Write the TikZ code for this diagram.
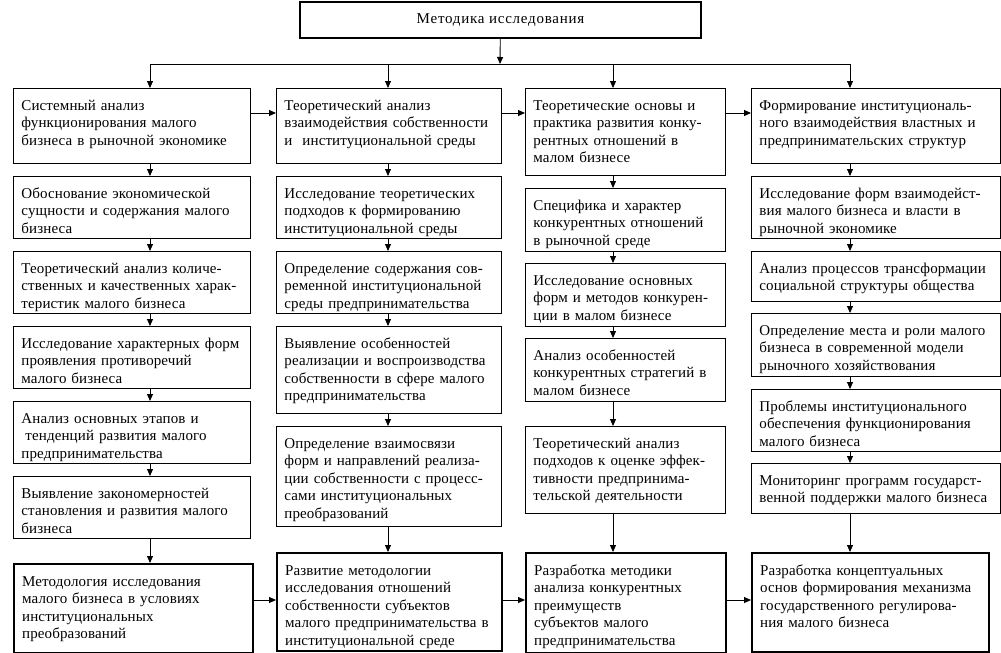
\documentclass[tikz,border=0pt]{standalone}
\usepackage{fontspec}
\setmainfont{Liberation Serif}[LetterSpace=0.8]
\newfontfamily\headfont{Liberation Serif}[LetterSpace=5.0]
\usetikzlibrary{arrows.meta}

\begin{document}
\begin{tikzpicture}[x=1pt,y=-1pt,
        box/.style 2 args={draw,line width=0.9pt,anchor=north west,align=left,
                inner xsep=8pt,inner ysep=0pt,text width=#1,
                text height=22pt,text depth=#2,
                font=\fontsize{15}{17.5}\selectfont},
        main/.style={line width=2.4pt},
        arr/.style={-{Triangle[length=7pt,width=6pt]},line width=0.9pt}]
        \useasboundingbox (0,0) rectangle (1001,653);

        \node [draw,main,minimum width=401pt,minimum height=36pt,
                font=\headfont\fontsize{15}{17.5}\selectfont] (0) at (500.5,20) {Методика исследования};

        % column 1
        \node [box={221pt}{53pt}] (11) at (13,88) {Системный анализ\\функционирования малого\\бизнеса в рыночной экономике};
        \node [box={221pt}{40pt}] (12) at (13,176) {Обоснование экономической\\сущности и содержания малого\\бизнеса};
        \node [box={221pt}{40pt}] (13) at (13,251) {Теоретический анализ количе-\\ственных и качественных харак-\\теристик малого бизнеса};
        \node [box={221pt}{40pt}] (14) at (13,326) {Исследование характерных форм\\проявления противоречий\\малого бизнеса};
        \node [box={221pt}{40pt}] (15) at (13,401) {Анализ основных этапов и\\\hspace*{4pt}тенденций развития малого\\предпринимательства};
        \node [box={221pt}{40pt}] (16) at (13,476) {Выявление закономерностей\\становления и развития малого\\бизнеса};
        \node [box={223pt}{67pt},main] (17) at (13,563) {Методология исследования\\малого бизнеса в условиях\\институциональных\\преобразований};

        % column 2
        \node [box={209pt}{53pt}] (21) at (276,88) {Теоретический анализ\\взаимодействия собственности\\и\ \ институциональной среды};
        \node [box={209pt}{40pt}] (22) at (276,176) {Исследование теоретических\\подходов к формированию\\институциональной среды};
        \node [box={209pt}{40pt}] (23) at (276,251) {Определение содержания сов-\\ременной институциональной\\среды предпринимательства};
        \node [box={209pt}{65pt}] (24) at (276,326) {Выявление особенностей\\реализации и воспроизводства\\собственности в сфере малого\\предпринимательства};
        \node [box={209pt}{78pt}] (25) at (276,426) {Определение взаимосвязи\\форм и направлений реализа-\\ции собственности с процесс-\\сами институциональных\\преобразований};
        \node [box={209pt}{76pt},main] (26) at (276,552) {Развитие методологии\\исследования отношений\\собственности субъектов\\малого предпринимательства в\\институциональной среде};

        % column 3
        \node [box={184pt}{65pt}] (31) at (525,88) {Теоретические основы и\\практика развития конку-\\рентных отношений в\\малом бизнесе};
        \node [box={184pt}{41pt}] (32) at (525,188) {Специфика и характер\\конкурентных отношений\\в рыночной среде};
        \node [box={184pt}{41pt}] (33) at (525,263) {Исследование основных\\форм и методов конкурен-\\ции в малом бизнесе};
        \node [box={184pt}{41pt}] (34) at (525,338) {Анализ особенностей\\конкурентных стратегий в\\малом бизнесе};
        \node [box={184pt}{65pt}] (35) at (525,426) {Теоретический анализ\\подходов к оценке эффек-\\тивности предпринима-\\тельской деятельности};
        \node [box={184pt}{78pt},main] (36) at (525,552) {Разработка методики\\анализа конкурентных\\преимуществ\\субъектов малого\\предпринимательства};

        % column 4
        \node [box={233pt}{53pt}] (41) at (751,88) {Формирование институциональ-\\ного взаимодействия властных и\\предпринимательских структур};
        \node [box={233pt}{40pt}] (42) at (751,176) {Исследование форм взаимодейст-\\вия малого бизнеса и власти в\\рыночной экономике};
        \node [box={233pt}{28pt}] (43) at (751,251) {Анализ процессов трансформации\\социальной структуры общества};
        \node [box={233pt}{41pt}] (44) at (751,313) {Определение места и роли малого\\бизнеса в современной модели\\рыночного хозяйствования};
        \node [box={233pt}{40pt}] (45) at (751,389) {Проблемы институционального\\обеспечения функционирования\\малого бизнеса};
        \node [box={233pt}{28pt}] (46) at (751,463) {Мониторинг программ государст-\\венной поддержки малого бизнеса};
        \node [box={221pt}{77pt},main] (47) at (751,552) {Разработка концептуальных\\основ формирования механизма\\государственного регулирова-\\ния малого бизнеса};

        \coordinate (split) at (500,64);
        \coordinate (x1) at (150,0);
        \coordinate (x2) at (388,0);
        \coordinate (x3) at (613,0);
        \coordinate (x4) at (850,0);
        \coordinate (r1) at (0,113);
        \coordinate (r2) at (0,600);

        \draw [arr] (0) -- (split);
        \draw [line width=0.9pt] (split -| x1) -- (split -| x4);
        \draw [arr] (split -| x1) -- (11.north -| x1);
        \draw [arr] (split -| x2) -- (21.north -| x2);
        \draw [arr] (split -| x3) -- (31.north -| x3);
        \draw [arr] (split -| x4) -- (41.north -| x4);

        \draw [arr] (11.south -| x1) -- (12.north -| x1);
        \draw [arr] (12.south -| x1) -- (13.north -| x1);
        \draw [arr] (13.south -| x1) -- (14.north -| x1);
        \draw [arr] (14.south -| x1) -- (15.north -| x1);
        \draw [arr] (15.south -| x1) -- (16.north -| x1);
        \draw [arr] (16.south -| x1) -- (17.north -| x1);

        \draw [arr] (21.south -| x2) -- (22.north -| x2);
        \draw [arr] (22.south -| x2) -- (23.north -| x2);
        \draw [arr] (23.south -| x2) -- (24.north -| x2);
        \draw [arr] (24.south -| x2) -- (25.north -| x2);
        \draw [arr] (25.south -| x2) -- (26.north -| x2);

        \draw [arr] (31.south -| x3) -- (32.north -| x3);
        \draw [arr] (32.south -| x3) -- (33.north -| x3);
        \draw [arr] (33.south -| x3) -- (34.north -| x3);
        \draw [arr] (34.south -| x3) -- (35.north -| x3);
        \draw [arr] (35.south -| x3) -- (36.north -| x3);

        \draw [arr] (41.south -| x4) -- (42.north -| x4);
        \draw [arr] (42.south -| x4) -- (43.north -| x4);
        \draw [arr] (43.south -| x4) -- (44.north -| x4);
        \draw [arr] (44.south -| x4) -- (45.north -| x4);
        \draw [arr] (45.south -| x4) -- (46.north -| x4);
        \draw [arr] (46.south -| x4) -- (47.north -| x4);

        \draw [arr] (11.east |- r1) -- (21.west |- r1);
        \draw [arr] (21.east |- r1) -- (31.west |- r1);
        \draw [arr] (31.east |- r1) -- (41.west |- r1);
        \draw [arr] (17.east |- r2) -- (26.west |- r2);
        \draw [arr] (26.east |- r2) -- (36.west |- r2);
        \draw [arr] (36.east |- r2) -- (47.west |- r2);
\end{tikzpicture}
\end{document}
